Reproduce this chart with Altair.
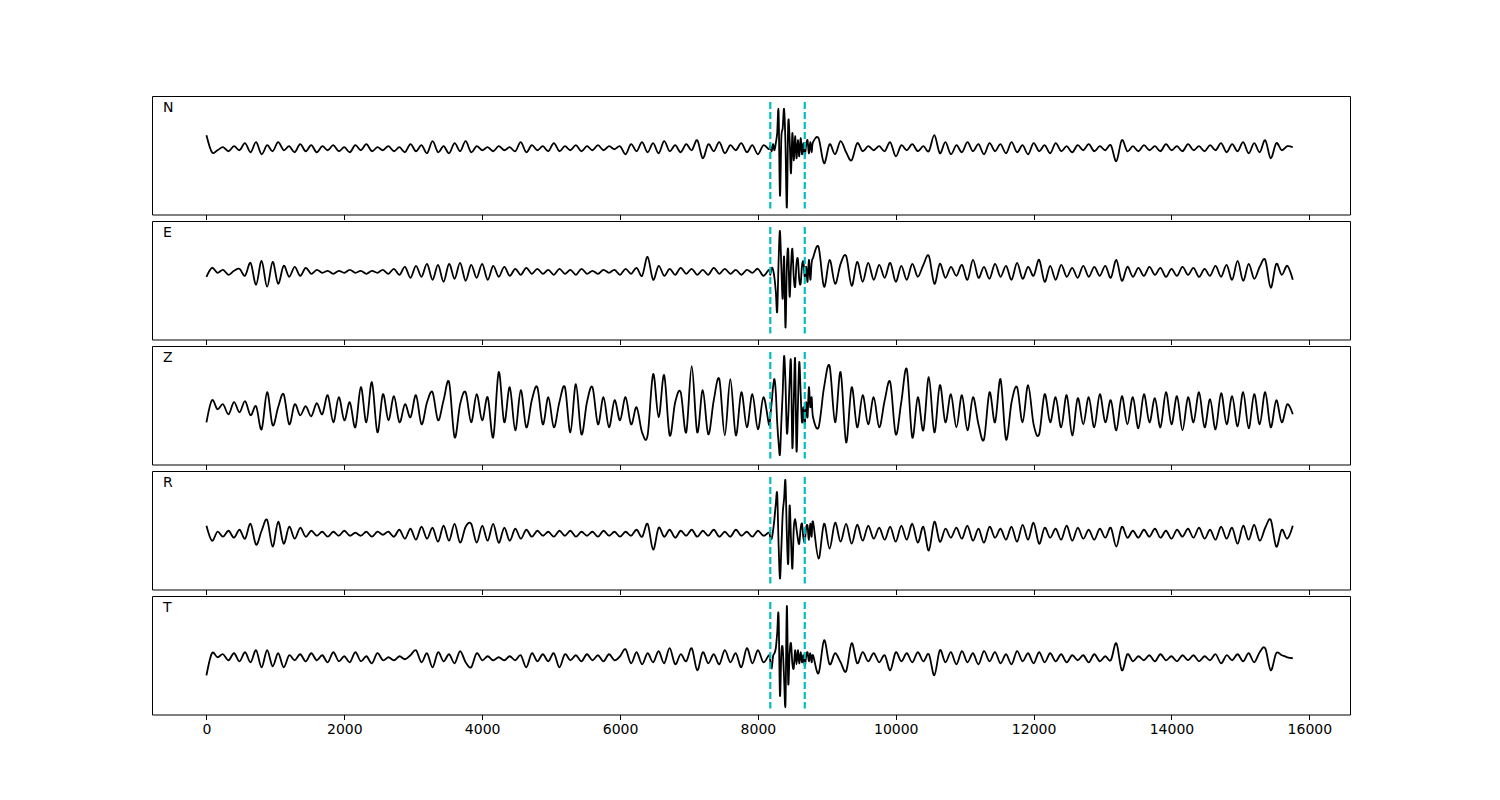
import altair as alt
import pandas as pd

# time samples (three segments: coarse, dense around the event, coarse)
SEG_A = list(range(0, 8160, 80))
SEG_B = list(range(8160, 8800, 20))
SEG_C = list(range(8800, 15801, 80))

CHANNELS = ["N", "E", "Z", "R", "T"]
PICKS = [8180, 8680]
TICKS = list(range(0, 16001, 2000))

N_A = [13,-4,-2,1,-3,2,-2,5,-4,6, -6,3,-3,6,-2,2,-4,4,-3,3, -4,2,-2,3,-3,1,-4,3,-2,4,
       -3,1,-2,2,-3,1,-4,4,-3,3, -5,7,-4,2,-5,5,-3,7,-4,2, -2,1,-3,2,-2,1,-3,6,-4,3,
       -2,2,-3,5,-3,2,-2,3,-3,2, -2,3,-2,2,-1,2,-6,4,-3,6, -4,5,-5,7,-3,3,-4,4,-2,8,
       -10,4,-3,6,-5,3,-2,5,-4,3, -6,3]
N_B = [-1,2,-3,4,-2,5,15,37,-47,10, 20,39,5,-59,25,10,-25,15,-12,12,
       -10,8,-8,10,-6,5,-7,3,8,-5, 6,-4]
N_C = [6,10,-15,4,-6,7,-4,-12,5,-3, 2,-2,2,-3,6,-8,3,-2,4,-3, 2,-3,13,-5,6,-6,3,-4,6,-3,
       4,-6,5,-3,4,-5,6,-4,3,-6, 5,-3,3,-5,5,-3,2,-4,3,-2, 4,-3,2,-2,3,-13,8,-3,2,-3,
       3,-2,2,-3,4,-2,2,-3,4,-2, 2,-3,3,-2,5,-4,4,-3,6,-5, 5,-4,8,-10,5,-2,2,1]

E_A = [-5,4,-1,2,-3,1,3,-4,9,-13, 11,-15,10,-12,6,-5,5,-4,4,-2, 2,-1,1,-2,1,-1,2,-1,1,-2,
       1,-1,2,-2,3,-3,5,-6,6,-5, 8,-8,7,-10,8,-7,9,-9,7,-6, 8,-8,6,-5,5,-4,3,-3,4,-2,
       3,-2,2,-3,3,-2,2,-3,3,-2, 1,-2,2,-1,2,-3,3,-2,4,-4, 15,-8,6,-4,3,-3,4,-2,3,-3,
       2,-3,4,-2,3,-2,2,-3,2,-1, 3,-4]
E_B = [2,-3,4,2,-6,-20,-40,10,41,5, -27,15,-56,5,22,-25,5,23,-5,-15,
       8,13,-8,-12,6,10,-5,5,-10,12, -8,9]
E_C = [14,25,-15,12,-12,8,16,-14,10,-10, 9,-8,7,-6,9,-10,6,-8,8,-5, 7,16,-12,8,-6,5,-4,7,-8,12,
       -6,5,-7,8,-5,6,-8,9,-7,5, -4,12,-10,6,-8,7,-5,4,-6,6, -5,5,-4,6,-6,12,-9,5,-5,4,
       -4,5,-3,4,-5,3,-4,5,-3,4, -5,3,-4,6,-5,7,-8,11,-9,8, -7,5,12,-16,8,-3,6,-8]

Z_A = [-10,12,3,8,-2,10,0,11,-3,6, -17,20,-13,5,18,-12,8,-3,6,-4, 9,-2,17,-10,15,-8,10,-15,25,-10,
       30,-20,18,-8,16,-10,8,-5,17,-12, 10,20,-8,12,30,-25,8,20,-10,18, -8,15,-25,40,-10,25,-18,22,-15,12,
       25,-12,15,-15,10,25,-20,28,-22,10, 25,-12,15,-15,12,-8,15,-12,5,-20, -23,38,-5,37,-23,10,20,-20,46,-20,
       22,-22,12,33,-23,33,-23,20,-15,18, -17,15]
Z_B = [-12,-3,10,25,33,20,-10,-30,-42,-10, 20,56,30,-20,-5,30,50,-35,10,53,
       -38,5,50,20,-10,5,-12,10,-5,25, 5,15]
Z_C = [-5,-15,25,46,-10,40,-30,25,-15,17, -12,15,-15,12,30,-22,10,43,-25,15, -18,35,-20,27,-10,18,-15,17,-18,15,
       -12,-27,20,-10,33,-27,10,25,-10,27, -12,-22,18,-10,15,-15,17,-23,14,-12, 15,-15,18,-10,12,-18,16,-12,15,-16,
       18,-10,14,-15,20,-12,16,-18,15,-10, 20,-15,13,-17,19,-12,16,-14,20,-16, 18,-12,20,-15,12,-10,8,-2]

R_A = [8,-7,2,-3,3,-4,4,-5,10,-11, 3,14,-13,12,-10,7,-5,6,-3,3, -2,2,-3,2,-2,3,-2,1,-2,2,
       -3,2,-1,2,-3,4,-5,5,-6,7, -5,6,-8,8,-7,10,-9,7,10,-9, 8,-7,10,-9,6,-7,5,-5,4,-3,
       3,-2,2,-3,3,-2,3,-3,2,-2, 2,-3,3,-2,2,-3,2,-2,4,-3, 10,-16,6,-3,4,-4,3,-2,4,-3,
       3,-2,4,-3,2,-3,4,-2,2,-3, 3,-2]
R_B = [1,-4,-5,3,15,30,40,-10,-45,-15, 20,35,53,0,-30,28,-5,-35,5,15,
       5,-5,-10,5,10,-4,-8,6,8,-6, 10,-3]
R_C = [12,-25,10,-15,11,-8,10,-10,9,-7, 8,-5,6,-6,7,-8,8,-6,10,-9, 7,-17,12,-8,5,-4,6,-5,8,-7,
       5,-9,7,-4,5,-6,7,-8,9,-6, 11,-10,6,-4,5,-6,8,-7,6,-5, 4,-6,5,-4,6,-13,7,-4,3,-4,
       4,-3,5,-4,3,-5,4,-3,5,-4, 6,-5,4,-6,7,-5,6,-10,8,-6, 9,-7,6,14,-13,4,-5,8]

T_A = [-17,5,1,4,-2,5,-3,6,-4,8, -9,8,-8,5,-9,3,-2,4,-3,5, -2,3,-4,6,-3,2,-4,6,-3,2,
       -5,5,-2,1,-2,2,-1,3,8,-4, 5,-9,6,-3,4,-5,7,-4,-9,5, -2,2,-2,1,-2,2,-2,3,-9,5,
       -3,4,-3,5,-9,4,-2,3,-3,4, -2,3,-3,4,-2,2,9,-5,6,-6, 5,-4,7,-5,10,-6,4,-3,10,-12,
       6,-5,4,-6,8,-4,5,-9,10,-5, 8,-4]
T_B = [3,-3,-10,2,5,10,25,43,-37,5, 10,-20,-46,52,-25,5,15,-5,-10,8,
       -6,8,-5,6,-4,3,-8,2,6,-3, 5,-4]
T_C = [3,-15,18,-6,5,-4,-13,15,-5,6, -3,5,-4,3,-12,6,-3,5,-4,6, -3,4,-17,8,-4,6,-6,7,-4,5,
       -6,7,-3,6,-5,4,-6,7,-3,5, -5,6,-4,5,-3,4,-4,3,-2,3, -4,4,-3,2,-2,15,-12,4,-3,2,
       -2,3,-3,4,-2,2,-3,3,-2,3, -3,2,-2,4,-5,3,-2,4,-3,5, -4,6,10,-12,5,3,1,0]

TRACES = {
    "N": (N_A, N_B, N_C),
    "E": (E_A, E_B, E_C),
    "Z": (Z_A, Z_B, Z_C),
    "R": (R_A, R_B, R_C),
    "T": (T_A, T_B, T_C),
}
Y_DOMAINS = {"N": [-66, 52], "E": [-68, 51], "Z": [-52, 66], "R": [-56, 63], "T": [-56, 62]}

W, H = 1198, 118.5


def panel(name, last):
    xs, ys = [], []
    for seg_x, seg_y in zip((SEG_A, SEG_B, SEG_C), TRACES[name]):
        for x, y in zip(seg_x, seg_y):
            xs.append(x)
            ys.append(y)
    df = pd.DataFrame({"t": xs, "amp": ys})
    xscale = alt.Scale(domain=[-790, 16590], nice=False, zero=False)
    xaxis = alt.Axis(values=TICKS, labels=last, ticks=True, domain=False, grid=False,
                     title=None, tickSize=5, tickColor="black", tickWidth=1,
                     labelColor="black", labelFontSize=14, labelFont="DejaVu Sans",
                     labelPadding=3 if last else 0, format="d")
    line = alt.Chart(df).mark_line(color="black", strokeWidth=1.8, interpolate="cardinal").encode(
        x=alt.X("t:Q", scale=xscale, axis=xaxis),
        y=alt.Y("amp:Q", scale=alt.Scale(domain=Y_DOMAINS[name], nice=False, zero=False), axis=None),
    )
    rules = alt.Chart(pd.DataFrame({"t": PICKS})).mark_rule(
        color="#00BFBF", strokeWidth=2.2, strokeDash=[7, 3]
    ).encode(x=alt.X("t:Q"), y=alt.value(6), y2=alt.value(H - 6))
    label = alt.Chart(pd.DataFrame({"name": [name]})).mark_text(
        align="left", baseline="middle", fontSize=14, font="DejaVu Sans", color="black"
    ).encode(text="name:N", x=alt.value(11), y=alt.value(12))
    return alt.layer(line, rules, label).properties(width=W, height=H)


panels = [panel(c, i == len(CHANNELS) - 1) for i, c in enumerate(CHANNELS)]
chart = (
    alt.vconcat(*panels, spacing=-1)
    .properties(padding={"left": 143, "top": 87, "right": 10, "bottom": 10})
    .configure_view(stroke="black", strokeWidth=1)
)
chart.save("out.html", embed_options={"renderer": "svg", "actions": False})
